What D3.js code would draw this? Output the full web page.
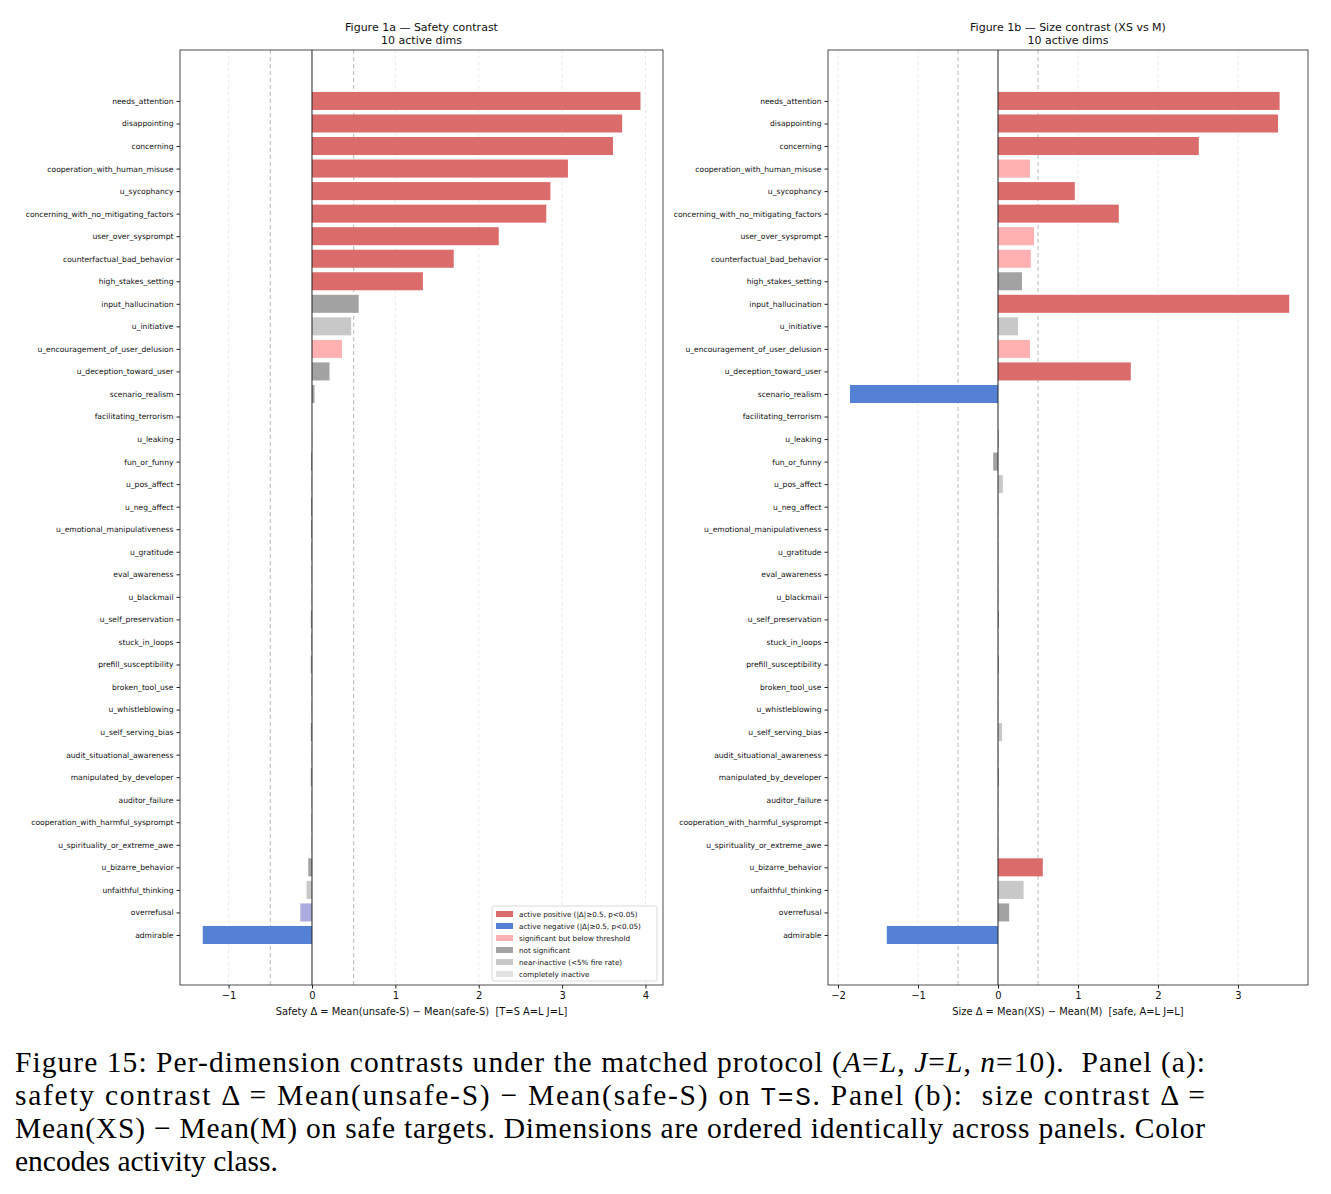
<!DOCTYPE html>
<html>
<head>
<meta charset="utf-8">
<script src="https://cdn.jsdelivr.net/npm/d3@7/dist/d3.min.js"></script>
<style>
  body { margin: 0; background: #fff; }
  svg text { font-family: "DejaVu Sans", sans-serif; white-space: pre; }
  .cap { font-family: "Liberation Serif", "Times New Roman", serif; font-size: 29.5px; fill: #000; }
</style>
</head>
<body>
<svg id="chart" width="1331" height="1194"></svg>
<script>
// dimension order (top to bottom)
const dims = ['needs_attention','disappointing','concerning','cooperation_with_human_misuse','u_sycophancy',
  'concerning_with_no_mitigating_factors','user_over_sysprompt','counterfactual_bad_behavior','high_stakes_setting',
  'input_hallucination','u_initiative','u_encouragement_of_user_delusion','u_deception_toward_user','scenario_realism',
  'facilitating_terrorism','u_leaking','fun_or_funny','u_pos_affect','u_neg_affect','u_emotional_manipulativeness',
  'u_gratitude','eval_awareness','u_blackmail','u_self_preservation','stuck_in_loops','prefill_susceptibility',
  'broken_tool_use','u_whistleblowing','u_self_serving_bias','audit_situational_awareness','manipulated_by_developer',
  'auditor_failure','cooperation_with_harmful_sysprompt','u_spirituality_or_extreme_awe','u_bizarre_behavior',
  'unfaithful_thinking','overrefusal','admirable'];

// panel a: safety contrast
const safetyVals = [3.94,3.72,3.61,3.07,2.86,2.81,2.24,1.70,1.33,
  0.56,0.47,0.36,0.21,0.03,
  0,0.003,-0.012,-0.004,-0.012,-0.012,
  -0.008,-0.006,-0.004,-0.014,-0.008,-0.014,
  -0.004,-0.004,-0.014,-0.004,-0.014,
  -0.004,-0.006,-0.004,-0.045,
  -0.065,-0.14,-1.31];
const safetyCls = ['pos','pos','pos','pos','pos','pos','pos','pos','pos',
  'ns','near','sig','ns','ns',
  'inact','ns','ns','ns','ns','ns',
  'ns','ns','ns','ns','ns','ns',
  'ns','ns','ns','ns','ns',
  'ns','ns','ns','ns',
  'near','signeg','neg'];

// panel b: size contrast
const sizeVals = [3.52,3.50,2.51,0.40,0.96,1.51,0.45,0.41,0.30,
  3.64,0.25,0.40,1.66,-1.85,
  0,0.01,-0.06,0.06,0.004,0.004,
  0.004,0.004,0.004,0.012,0.004,0.012,
  0.004,0.004,0.05,0.004,0.012,
  0.004,0.004,0.004,0.56,
  0.32,0.14,-1.39];
const sizeCls = ['pos','pos','pos','sig','pos','pos','sig','sig','ns',
  'pos','near','sig','pos','neg',
  'inact','ns','ns','near','ns','ns',
  'ns','ns','ns','ns','ns','ns',
  'ns','ns','near','ns','ns',
  'ns','ns','ns','pos',
  'near','ns','neg'];

const colors = {pos:'#db6c6c', neg:'#5581d4', sig:'#ffb0b1', ns:'#a3a3a3', near:'#c8c8c8', inact:'#e2e2e2', signeg:'#acacdf'};
const legendKeys = ['pos','neg','sig','ns','near','inact'];
const legendLabels = ['active positive (|Δ|≥0.5, p<0.05)','active negative (|Δ|≥0.5, p<0.05)',
  'significant but below threshold','not significant','near-inactive (<5% fire rate)','completely inactive'];

const svg = d3.select('#chart');
svg.append('rect').attr('width',1331).attr('height',1194).attr('fill','#fff');

const plotTop = 50, plotBottom = 985;
const y = d3.scaleLinear().domain([-2.26, dims.length - 1 + 2.22]).range([plotTop, plotBottom]);
const barH = (y(1) - y(0)) * 0.8;

function panel(opt){
  const x = d3.scaleLinear().domain(opt.domain).range([opt.left, opt.right]);
  const g = svg.append('g');

  // grid at integer ticks
  g.selectAll('.grid').data(opt.ticks.filter(t => t !== 0)).enter().append('line')
    .attr('x1', d => x(d)).attr('x2', d => x(d)).attr('y1', plotTop).attr('y2', plotBottom)
    .attr('stroke', '#e4e4e4').attr('stroke-width', 0.8).attr('stroke-dasharray', '3,3');
  // threshold lines
  g.selectAll('.thr').data([-0.5, 0.5]).enter().append('line')
    .attr('x1', d => x(d)).attr('x2', d => x(d)).attr('y1', plotTop).attr('y2', plotBottom)
    .attr('stroke', '#b8b8b8').attr('stroke-width', 1).attr('stroke-dasharray', '4,3');

  g.selectAll('.bar').data(opt.vals).enter().append('rect')
    .attr('x', d => Math.min(x(0), x(d)))
    .attr('width', d => Math.abs(x(d) - x(0)))
    .attr('y', (d, i) => y(i) - barH / 2)
    .attr('height', barH)
    .attr('fill', (d, i) => colors[opt.cls[i]]);

  g.append('line').attr('x1', x(0)).attr('x2', x(0)).attr('y1', plotTop).attr('y2', plotBottom)
    .attr('stroke', '#222').attr('stroke-width', 1);

  // frame
  g.append('rect').attr('x', opt.left).attr('y', plotTop).attr('width', opt.right - opt.left).attr('height', plotBottom - plotTop)
    .attr('fill', 'none').attr('stroke', '#222').attr('stroke-width', 0.8);

  // y axis labels
  const ya = g.append('g').attr('transform', `translate(${opt.left},0)`)
    .call(d3.axisLeft(y).tickValues(d3.range(dims.length)).tickFormat(i => dims[i]).tickSize(3.5).tickPadding(3));
  ya.select('.domain').remove();
  ya.selectAll('text').attr('font-size', 7.6).attr('fill', '#111').style('font-family', '"DejaVu Sans", sans-serif');
  ya.selectAll('line').attr('stroke', '#222');

  // x axis
  const xa = g.append('g').attr('transform', `translate(0,${plotBottom})`)
    .call(d3.axisBottom(x).tickValues(opt.ticks).tickFormat(d => d < 0 ? '\u2212' + Math.abs(d) : d).tickSize(3.5).tickPadding(3));
  xa.select('.domain').remove();
  xa.selectAll('text').attr('font-size', 10).attr('fill', '#111').style('font-family', '"DejaVu Sans", sans-serif');
  xa.selectAll('line').attr('stroke', '#222');

  const cx = (opt.left + opt.right) / 2;
  g.append('text').attr('x', cx).attr('y', 1015).attr('text-anchor', 'middle').attr('font-size', 9.9).attr('fill', '#111').text(opt.xlabel);
  g.append('text').attr('x', cx).attr('y', 31).attr('text-anchor', 'middle').attr('font-size', 11).attr('fill', '#111').text(opt.title);
  g.append('text').attr('x', cx).attr('y', 44).attr('text-anchor', 'middle').attr('font-size', 11).attr('fill', '#111').text(opt.subtitle);
  return x;
}

panel({left: 180, right: 663, domain: [-1.583, 4.21], ticks: [-1,0,1,2,3,4], vals: safetyVals, cls: safetyCls,
  title: 'Figure 1a \u2014 Safety contrast', subtitle: '10 active dims',
  xlabel: 'Safety \u0394 = Mean(unsafe-S) \u2212 Mean(safe-S)  [T=S A=L J=L]'});
panel({left: 828, right: 1308, domain: [-2.125, 3.875], ticks: [-2,-1,0,1,2,3], vals: sizeVals, cls: sizeCls,
  title: 'Figure 1b \u2014 Size contrast (XS vs M)', subtitle: '10 active dims',
  xlabel: 'Size \u0394 = Mean(XS) \u2212 Mean(M)  [safe, A=L J=L]'});

// legend (panel a, lower right)
const lg = svg.append('g').attr('transform', 'translate(492,906)');
lg.append('rect').attr('width', 165).attr('height', 75).attr('rx', 2).attr('fill', '#fff').attr('fill-opacity', 0.9)
  .attr('stroke', '#d0d0d0').attr('stroke-width', 0.8);
lg.selectAll('.sw').data(legendKeys).enter().append('rect')
  .attr('x', 4).attr('y', (d, i) => 5 + i * 12).attr('width', 17).attr('height', 6)
  .attr('fill', d => colors[d]);
lg.selectAll('.lt').data(legendLabels).enter().append('text')
  .attr('x', 27).attr('y', (d, i) => 11 + i * 12).attr('font-size', 7.2).attr('fill', '#111').text(d => d);

// caption
const capLines = [
  [['Figure 15: Per-dimension contrasts under the matched protocol (',''],['A','i'],['=',''],['L','i'],[', ',''],['J','i'],['=',''],['L','i'],[', ',''],['n','i'],['=10).  Panel (a):','']],
  [['safety contrast \u0394 = Mean(unsafe-S) \u2212 Mean(safe-S) on ',''],['T=S','m'],['. Panel (b):  size contrast \u0394 =','']],
  [['Mean(XS) \u2212 Mean(M) on safe targets. Dimensions are ordered identically across panels. Color','']],
  [['encodes activity class.','']]
];
capLines.forEach((parts, li) => {
  const t = svg.append('text').attr('class', 'cap').attr('x', 15).attr('y', 1072 + li * 33);
  if (li < 3) t.attr('textLength', 1190).attr('lengthAdjust', 'spacing');
  parts.forEach(p => {
    const s = t.append('tspan').text(p[0]);
    if (p[1] === 'i') s.attr('font-style', 'italic');
    if (p[1] === 'm') s.style('font-family', '"Liberation Mono", monospace').attr('font-size', 26);
  });
});
</script>
</body>
</html>
